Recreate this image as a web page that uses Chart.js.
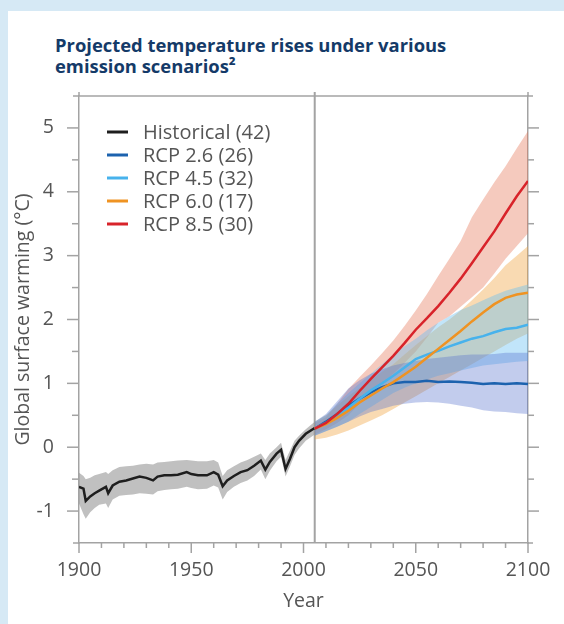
<!DOCTYPE html>
<html><head><meta charset="utf-8">
<script src="https://cdn.jsdelivr.net/npm/chart.js@4.4.1/dist/chart.umd.min.js"></script>
<style>
html,body{margin:0;padding:0;width:564px;height:624px;overflow:hidden;background:#d6e9f5;}
#panel{position:absolute;left:8px;top:11px;width:556px;height:613px;background:#fff;}
#title{position:absolute;left:55px;top:34px;font:700 18.4px 'Open Sans';line-height:21px;color:#143a68;margin:0;white-space:nowrap}
#wrap{position:absolute;left:0;top:0;width:564px;height:624px;}
</style></head><body>
<div id="panel"></div>
<div id="title">Projected temperature rises under various<br>emission scenarios²</div>
<div id="wrap"><canvas id="c" width="564" height="624"></canvas></div>
<script>
// ---------- data ----------
const xTickLabels = [1900, 1950, 2000, 2050, 2100];
const yTickLabels = [-1, 0, 1, 2, 3, 4, 5];
const seriesNames = ['Historical (42)', 'RCP 2.6 (26)', 'RCP 4.5 (32)', 'RCP 6.0 (17)', 'RCP 8.5 (30)'];

const histYears = [1900,1902,1903,1905,1907,1909,1912,1913,1915,1918,1921,1924,1927,1930,1933,1935,1938,1941,1944,1948,1950,1953,1957,1960,1962,1964,1966,1969,1972,1975,1978,1981,1983,1985,1988,1990,1992,1994,1996,1998,2001,2005];
const histMean  = [-0.62,-0.65,-0.84,-0.77,-0.72,-0.68,-0.62,-0.72,-0.60,-0.54,-0.52,-0.49,-0.46,-0.48,-0.52,-0.46,-0.44,-0.44,-0.43,-0.39,-0.42,-0.44,-0.44,-0.39,-0.43,-0.61,-0.52,-0.45,-0.39,-0.36,-0.29,-0.21,-0.35,-0.23,-0.10,-0.04,-0.34,-0.18,0.00,0.10,0.21,0.30];
const histUpper = [-0.40,-0.45,-0.50,-0.48,-0.44,-0.42,-0.39,-0.42,-0.36,-0.31,-0.30,-0.29,-0.27,-0.26,-0.27,-0.24,-0.23,-0.22,-0.21,-0.20,-0.21,-0.22,-0.22,-0.20,-0.24,-0.45,-0.36,-0.30,-0.24,-0.20,-0.15,-0.10,-0.20,-0.10,0.00,0.07,-0.20,-0.05,0.10,0.18,0.28,0.40];
const histLower = [-0.88,-1.05,-1.12,-1.02,-0.95,-0.90,-0.88,-0.95,-0.82,-0.76,-0.75,-0.74,-0.72,-0.73,-0.74,-0.69,-0.67,-0.66,-0.65,-0.62,-0.64,-0.66,-0.65,-0.60,-0.63,-0.82,-0.70,-0.62,-0.56,-0.52,-0.45,-0.35,-0.50,-0.37,-0.22,-0.15,-0.46,-0.30,-0.12,-0.02,0.10,0.20];

const futYears = [2005,2010,2015,2020,2025,2030,2035,2040,2045,2050,2055,2060,2065,2070,2075,2080,2085,2090,2095,2100];
const rcp26Mean  = [0.29,0.40,0.52,0.65,0.76,0.86,0.94,1.00,1.02,1.02,1.04,1.02,1.03,1.02,1.01,0.99,1.00,0.99,1.00,0.99];
const rcp26Upper = [0.40,0.52,0.72,0.92,1.05,1.15,1.22,1.28,1.32,1.35,1.38,1.40,1.42,1.44,1.45,1.45,1.46,1.48,1.48,1.48];
const rcp26Lower = [0.18,0.25,0.32,0.40,0.48,0.55,0.60,0.65,0.68,0.70,0.71,0.70,0.68,0.65,0.62,0.58,0.56,0.55,0.53,0.52];
const rcp45Mean  = [0.29,0.38,0.50,0.62,0.76,0.89,1.00,1.12,1.25,1.38,1.45,1.51,1.58,1.64,1.70,1.74,1.80,1.85,1.87,1.92];
const rcp45Upper = [0.40,0.50,0.68,0.85,1.00,1.15,1.30,1.45,1.58,1.70,1.83,1.95,2.05,2.15,2.22,2.30,2.38,2.45,2.50,2.55];
const rcp45Lower = [0.18,0.25,0.32,0.40,0.52,0.63,0.74,0.85,0.93,1.00,1.06,1.12,1.16,1.20,1.24,1.28,1.30,1.32,1.34,1.35];
const rcp60Mean  = [0.29,0.36,0.46,0.57,0.70,0.81,0.92,1.02,1.14,1.26,1.40,1.54,1.68,1.82,1.97,2.11,2.24,2.34,2.39,2.42];
const rcp60Upper = [0.40,0.50,0.65,0.80,0.93,1.05,1.18,1.30,1.45,1.60,1.74,1.88,2.00,2.14,2.30,2.47,2.65,2.85,3.00,3.15];
const rcp60Lower = [0.12,0.15,0.20,0.26,0.34,0.42,0.50,0.60,0.70,0.80,0.90,1.00,1.10,1.20,1.30,1.40,1.50,1.60,1.70,1.78];
const rcp85Mean  = [0.29,0.38,0.52,0.68,0.88,1.07,1.25,1.43,1.63,1.84,2.02,2.21,2.42,2.64,2.88,3.13,3.38,3.66,3.93,4.17];
const rcp85Upper = [0.38,0.47,0.68,0.91,1.10,1.28,1.47,1.67,1.90,2.14,2.40,2.68,2.95,3.23,3.60,3.88,4.15,4.40,4.68,4.95];
const rcp85Lower = [0.20,0.28,0.38,0.50,0.68,0.85,1.00,1.15,1.32,1.50,1.72,1.95,2.05,2.20,2.35,2.50,2.72,2.95,3.15,3.35];

// ---------- styling ----------
const lineColors = ['#1e1e1e', '#1c62ae', '#47b2ec', '#ef9322', '#d8232a'];
const bandColors = ['rgba(140,140,140,0.55)', 'rgba(85,115,205,0.36)', 'rgba(100,190,242,0.40)', 'rgba(240,162,62,0.40)', 'rgba(228,115,85,0.38)'];
const AXIS = '#a3a3a3';
const TXT = '#555555';
const FONT = '"Open Sans", sans-serif';

function pts(xs, ys) { return xs.map((x, i) => ({ x: x, y: ys[i] })); }
function lineDs(label, xs, ys, color) {
  return { label, data: pts(xs, ys), borderColor: color, borderWidth: 2.5, pointRadius: 0, fill: false, tension: 0 };
}
function bandDs(xs, up, lo, color) {
  return [
    { label: '_u', data: pts(xs, up), borderWidth: 0, borderColor: 'rgba(0,0,0,0)', backgroundColor: color, pointRadius: 0, fill: '+1', tension: 0 },
    { label: '_l', data: pts(xs, lo), borderWidth: 0, borderColor: 'rgba(0,0,0,0)', pointRadius: 0, fill: false, tension: 0 }
  ];
}

const datasets = [
  lineDs(seriesNames[4], futYears, rcp85Mean, lineColors[4]),
  lineDs(seriesNames[3], futYears, rcp60Mean, lineColors[3]),
  lineDs(seriesNames[2], futYears, rcp45Mean, lineColors[2]),
  lineDs(seriesNames[1], futYears, rcp26Mean, lineColors[1]),
  lineDs(seriesNames[0], histYears, histMean, lineColors[0]),
  ...bandDs(histYears, histUpper, histLower, bandColors[0]),
  ...bandDs(futYears, rcp26Upper, rcp26Lower, bandColors[1]),
  ...bandDs(futYears, rcp45Upper, rcp45Lower, bandColors[2]),
  ...bandDs(futYears, rcp60Upper, rcp60Lower, bandColors[3]),
  ...bandDs(futYears, rcp85Upper, rcp85Lower, bandColors[4])
];

function seg(ctx, x1, y1, x2, y2) { ctx.beginPath(); ctx.moveTo(x1, y1); ctx.lineTo(x2, y2); ctx.stroke(); }

const framePlugin = {
  id: 'frame',
  beforeDatasetsDraw(chart) {
    const { ctx, chartArea: a, scales: { x } } = chart;
    ctx.save();
    ctx.strokeStyle = AXIS; ctx.lineWidth = 2;
    const px = x.getPixelForValue(2005);
    seg(ctx, px, a.top - 4, px, a.bottom);
    ctx.restore();
  },
  afterDraw(chart) {
    const { ctx, chartArea: a, scales: { x, y } } = chart;
    ctx.save();
    ctx.strokeStyle = AXIS; ctx.lineWidth = 1.5;
    seg(ctx, a.left - 6, a.top, a.right + 5, a.top);
    seg(ctx, a.left - 6, a.bottom, a.left, a.bottom);
    seg(ctx, a.right, a.bottom, a.right + 5, a.bottom);
    [1900, 2100].forEach(v => { const p = x.getPixelForValue(v); seg(ctx, p, a.top - 4, p, a.top); });
    for (let v = -1; v <= 5; v += 0.5) {
      const py = y.getPixelForValue(v);
      const major = Number.isInteger(v);
      seg(ctx, a.left - (major ? 12 : 7), py, a.left, py);
      seg(ctx, a.right, py, a.right + (major ? 11 : 6), py);
    }
    for (let v = 1900; v <= 2100; v += 10) {
      const p = x.getPixelForValue(v);
      seg(ctx, p, a.bottom, p, a.bottom + (v % 50 === 0 ? 10 : 5));
    }
    // legend
    ctx.font = '20px ' + FONT;
    ctx.textBaseline = 'middle';
    ctx.textAlign = 'left';
    seriesNames.forEach((name, i) => {
      const ly = a.top + 36 + i * 23;
      ctx.strokeStyle = lineColors[i]; ctx.lineWidth = 3;
      seg(ctx, a.left + 28, ly, a.left + 49, ly);
      ctx.fillStyle = TXT;
      ctx.fillText(name, a.left + 64, ly + 1);
    });
    ctx.restore();
  }
};

new Chart(document.getElementById('c'), {
  type: 'line',
  data: { datasets },
  options: {
    responsive: false,
    animation: false,
    events: [],
    devicePixelRatio: 1,
    layout: { padding: { top: 96, left: 0, right: 0, bottom: 0 } },
    plugins: { legend: { display: false }, tooltip: { enabled: false }, title: { display: false } },
    scales: {
      x: {
        type: 'linear', min: 1900, max: 2100,
        afterBuildTicks: s => { s.ticks = xTickLabels.map(v => ({ value: v })); },
        afterFit: s => { s.height = 81; },
        grid: { display: false },
        border: { display: true, color: AXIS, width: 1.5 },
        ticks: { padding: 8, maxRotation: 0, autoSkip: false, color: TXT, font: { family: FONT, size: 19.5 }, callback: v => String(v) },
        title: { display: true, text: 'Year', color: TXT, font: { family: FONT, size: 19.5 }, padding: { top: 0, bottom: 11 } }
      },
      y: {
        type: 'linear', min: -1.5, max: 5.5, position: 'left',
        afterBuildTicks: s => { s.ticks = yTickLabels.map(v => ({ value: v })); },
        afterFit: s => { s.width = 79; },
        grid: { display: false },
        border: { display: true, color: AXIS, width: 1.5 },
        ticks: { padding: 17, color: TXT, font: { family: FONT, size: 19.5 }, callback: v => String(v) },
        title: { display: true, text: 'Global surface warming (°C)', color: TXT, font: { family: FONT, size: 19.5 }, padding: { top: 12, bottom: 0 } }
      },
      y2: {
        type: 'linear', min: -1.5, max: 5.5, position: 'right',
        afterFit: s => { s.width = 36; },
        grid: { display: false },
        border: { display: true, color: AXIS, width: 1.5 },
        ticks: { display: false }
      }
    }
  },
  plugins: [framePlugin]
});
</script>
</body></html>
